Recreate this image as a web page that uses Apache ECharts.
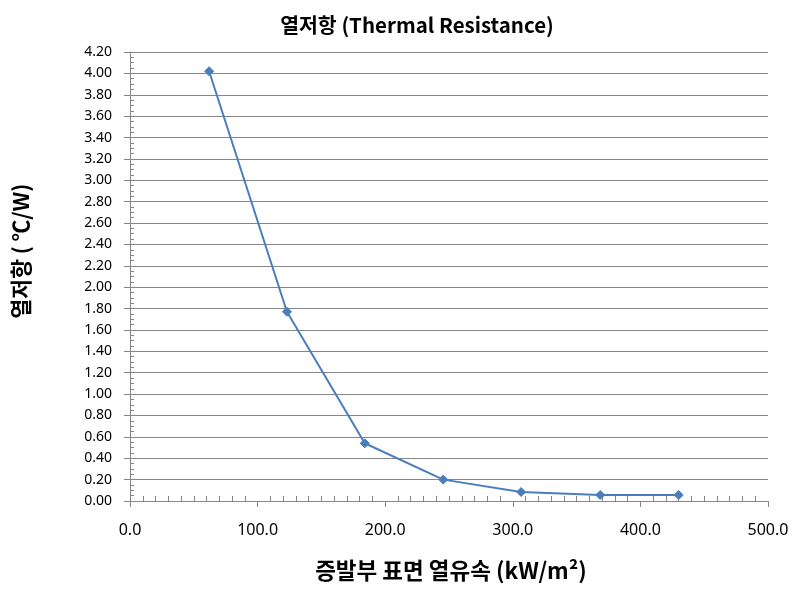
<!DOCTYPE html>
<html>
<head>
<meta charset="utf-8">
<script src="https://cdn.jsdelivr.net/npm/echarts@6/dist/echarts.min.js"></script>
<style>
  html, body { margin: 0; padding: 0; background: #fff; }
  #chart { width: 796px; height: 589px; }
</style>
</head>
<body>
<div id="chart"></div>
<script>
// Data
const heatFlux = [62.0, 123.0, 184.0, 245.5, 306.5, 368.5, 430.0];   // kW/m²
const resistance = [4.02, 1.77, 0.54, 0.20, 0.084, 0.056, 0.056];    // ℃/W
const titleText = '열저항 (Thermal Resistance)';
const xName = '증발부 표면 열유속 (kW/m²)';
const yName = '열저항 ( ℃/W)';
const xMin = 0, xMax = 500, xStep = 100;
const yMin = 0, yMax = 4.2, yStep = 0.2;

const gray = '#868686';
const kr = '"Noto Sans CJK KR", "Noto Sans", sans-serif';
const num = '"Noto Sans", "DejaVu Sans", sans-serif';

const chart = echarts.init(document.getElementById('chart'), null, { renderer: 'canvas' });
const grid = { left: 130, right: 28, top: 52, bottom: 88, containLabel: false };

chart.setOption({
  animation: false,
  backgroundColor: '#ffffff',
  grid: grid,
  graphic: [
    { type: 'text', x: 417, y: 25,
      style: { text: titleText, font: 'bold 20.5px ' + kr, fill: '#000', textAlign: 'center', textVerticalAlign: 'middle' } },
    { type: 'text', x: 451, y: 570,
      style: { text: xName, font: 'bold 22.5px ' + kr, fill: '#000', textAlign: 'center', textVerticalAlign: 'middle' } },
    { type: 'text', x: 21, y: 251, rotation: Math.PI / 2,
      style: { text: yName, font: 'bold 21.5px ' + kr, fill: '#000', textAlign: 'center', textVerticalAlign: 'middle' } }
  ],
  xAxis: [
    { type: 'value', position: 'bottom', min: xMin, max: xMax, interval: xStep,
      axisLine: { show: true, lineStyle: { color: gray, width: 1 } },
      axisTick: { show: true, inside: false, length: 6, lineStyle: { color: gray } },
      splitLine: { show: false },
      axisLabel: { show: true, margin: 21, fontSize: 16, fontFamily: num, color: '#000',
        formatter: v => v.toFixed(1) } },
    { type: 'value', position: 'bottom', min: xMin, max: xMax, interval: xStep,
      axisLine: { show: false },
      axisTick: { show: false, inside: true },
      minorTick: { show: true, splitNumber: 10, length: 5, lineStyle: { color: gray } },
      splitLine: { show: false }, axisLabel: { show: false } }
  ],
  yAxis: [
    { type: 'value', position: 'left', min: yMin, max: yMax, interval: yStep,
      axisLine: { show: true, lineStyle: { color: gray, width: 1 } },
      axisTick: { show: true, inside: false, length: 6, lineStyle: { color: gray } },
      splitLine: { show: true, lineStyle: { color: gray, width: 1 } },
      axisLabel: { show: true, margin: 18, fontSize: 14, fontFamily: num, color: '#000',
        formatter: v => v.toFixed(2) } },
    { type: 'value', position: 'left', min: yMin, max: yMax, interval: yStep,
      axisLine: { show: false },
      axisTick: { show: false, inside: true },
      minorTick: { show: true, splitNumber: 4, length: 4, lineStyle: { color: gray } },
      splitLine: { show: false }, axisLabel: { show: false } }
  ],
  series: [{
    type: 'line',
    xAxisIndex: 0, yAxisIndex: 0,
    data: heatFlux.map((x, i) => [x, resistance[i]]),
    symbol: 'diamond', symbolSize: 9, showSymbol: true,
    lineStyle: { color: '#4a7ebb', width: 2 },
    itemStyle: { color: '#4a7ebb', borderColor: '#4a7ebb' },
    z: 5
  }]
});
</script>
</body>
</html>
